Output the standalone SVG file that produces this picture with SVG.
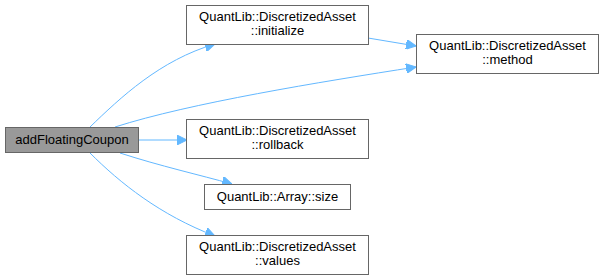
<svg xmlns="http://www.w3.org/2000/svg" width="603" height="280" viewBox="0 0 603 280">
  <style>
    .node rect { fill: #ffffff; stroke: #666666; stroke-width: 1; }
    .node.root rect { fill: #999999; }
    .node text { font-family: "Liberation Sans", Arial, sans-serif; font-size: 13px; fill: #000000; text-anchor: middle; }
    .edge { fill: none; stroke: #63b8ff; stroke-width: 1; }
  </style>
  <defs>
    <marker id="arrow" viewBox="0 0 10 10" refX="10" refY="5" markerWidth="10" markerHeight="10" markerUnits="userSpaceOnUse" orient="auto">
      <path d="M0,0 L10,5 L0,10 z" fill="#63b8ff" stroke="#63b8ff"/>
    </marker>
  </defs>

  <g id="connectors">
    <path class="edge" marker-end="url(#arrow)" d="M90,127 C120,98 160,60 215,44"/>
    <path class="edge" marker-end="url(#arrow)" d="M115,127 C190,103 320,82 416,67"/>
    <path class="edge" marker-end="url(#arrow)" d="M368,38 L416,46"/>
    <path class="edge" marker-end="url(#arrow)" d="M138,140 L187,140"/>
    <path class="edge" marker-end="url(#arrow)" d="M120,153 C160,166 200,175 232,184"/>
    <path class="edge" marker-end="url(#arrow)" d="M90,153 C120,183 160,215 215,236"/>
  </g>

  <g id="addFloatingCoupon" class="node root">
    <rect x="5.5" y="127.5" width="133" height="25"/>
    <text x="72" y="144">addFloatingCoupon</text>
  </g>

  <g id="initialize" class="node">
    <rect x="186.5" y="5.5" width="182" height="39"/>
    <text x="277.5" y="21">QuantLib::DiscretizedAsset</text>
    <text x="277.5" y="35">::initialize</text>
  </g>

  <g id="method" class="node">
    <rect x="416.5" y="34.5" width="182" height="39"/>
    <text x="507.5" y="50">QuantLib::DiscretizedAsset</text>
    <text x="507.5" y="64">::method</text>
  </g>

  <g id="rollback" class="node">
    <rect x="186.5" y="119.5" width="182" height="39"/>
    <text x="277.5" y="135">QuantLib::DiscretizedAsset</text>
    <text x="277.5" y="149">::rollback</text>
  </g>

  <g id="size" class="node">
    <rect x="204.5" y="184.5" width="146" height="25"/>
    <text x="277.5" y="201">QuantLib::Array::size</text>
  </g>

  <g id="values" class="node">
    <rect x="186.5" y="235.5" width="182" height="39"/>
    <text x="277.5" y="251">QuantLib::DiscretizedAsset</text>
    <text x="277.5" y="265">::values</text>
  </g>
</svg>
